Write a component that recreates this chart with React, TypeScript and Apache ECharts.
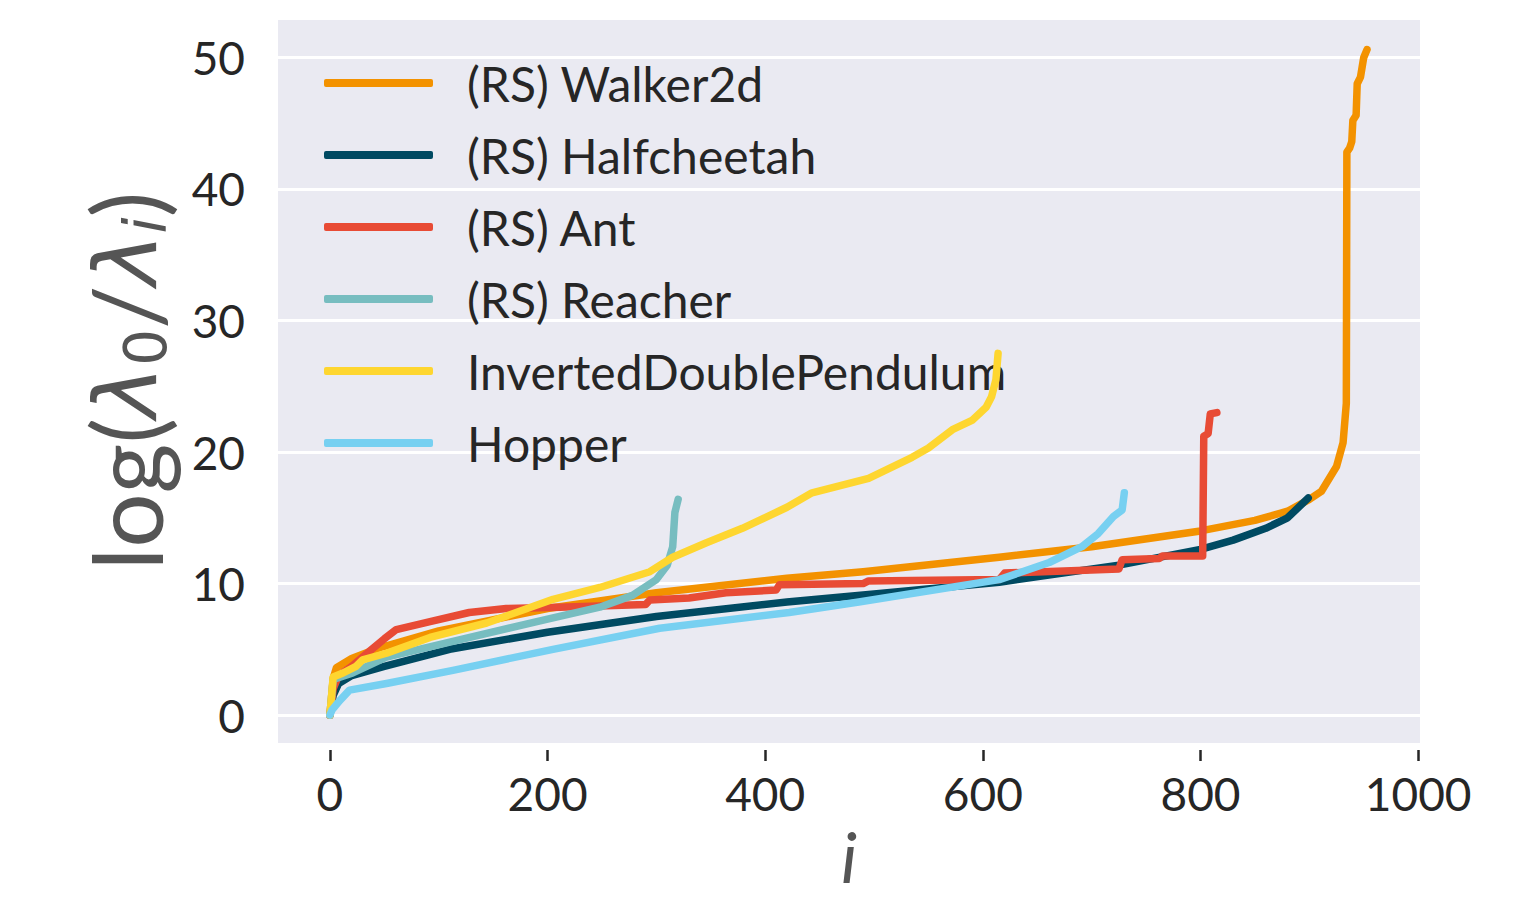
import React, { useEffect, useRef } from "react";
import * as echarts from "echarts";

const seriesNames = [
  "(RS) Walker2d",
  "(RS) Halfcheetah",
  "(RS) Ant",
  "(RS) Reacher",
  "InvertedDoublePendulum",
  "Hopper",
];
const seriesColors = ["#F39200", "#004A62", "#E84B35", "#77BDC0", "#FED630", "#77D0F1"];

const walker2d = [
  [0, 0], [3, 2.8], [6, 3.6], [20, 4.3], [45, 5.1], [100, 6.4], [200, 8.1], [300, 9.3],
  [420, 10.4], [490, 10.9], [615, 12.0], [700, 12.8], [800, 14.0], [850, 14.8], [880, 15.5],
  [900, 16.4], [911, 17.0], [925, 18.9], [931, 20.7], [934, 23.7], [934.5, 42.8], [937, 43.1],
  [939, 43.6], [940, 45.2], [943, 45.6], [944, 48.0], [947, 48.5], [950, 50.0], [953, 50.6],
];
const halfcheetah = [
  [0, 0], [3, 1.5], [8, 2.4], [20, 3.0], [50, 3.7], [110, 5.0], [200, 6.3], [300, 7.5],
  [420, 8.6], [500, 9.2], [615, 10.1], [725, 11.4], [800, 12.6], [830, 13.3], [860, 14.2],
  [880, 15.0], [899, 16.5],
];
const ant = [
  [0, 0], [3, 2.0], [8, 3.0], [20, 3.7], [37, 4.9], [50, 5.8], [61, 6.5], [92, 7.1],
  [128, 7.8], [162, 8.1], [211, 8.2], [290, 8.4], [294, 8.75], [330, 8.9], [364, 9.3],
  [410, 9.5], [413, 9.9], [490, 10.0], [495, 10.2], [615, 10.3], [620, 10.8], [725, 11.1],
  [728, 11.8], [762, 11.9], [765, 12.1], [802, 12.1], [803, 21.2], [807, 21.4], [809, 22.9],
  [815, 23.0],
];
const reacher = [
  [0, 0], [3, 2.7], [21, 3.2], [52, 4.4], [113, 5.6], [200, 7.3], [248, 8.2], [278, 9.1],
  [300, 10.3], [310, 11.4], [315, 12.8], [317, 15.4], [320, 16.4],
];
const invertedDoublePendulum = [
  [0, 0], [3, 2.9], [12, 3.2], [24, 3.7], [30, 4.2], [52, 4.7], [92, 5.9], [144, 7.0],
  [205, 8.8], [248, 9.7], [294, 10.9], [315, 12.0], [346, 13.1], [379, 14.2], [420, 15.8],
  [443, 16.9], [495, 18.0], [535, 19.6], [550, 20.3], [572, 21.7], [590, 22.4], [603, 23.4],
  [608, 24.2], [612, 25.5], [614, 27.5],
];
const hopper = [
  [0, 0], [2, 0.4], [9, 1.1], [18, 1.9], [52, 2.4], [113, 3.4], [205, 5.0], [303, 6.6],
  [422, 7.8], [486, 8.6], [615, 10.3], [661, 11.6], [691, 12.8], [706, 13.8], [720, 15.1],
  [728, 15.6], [730, 16.9],
];
const seriesData = [walker2d, halfcheetah, ant, reacher, invertedDoublePendulum, hopper];

const xTicks = [0, 200, 400, 600, 800, 1000];
const yTicks = [0, 10, 20, 30, 40, 50];

const FONT = "Lato, 'Open Sans', sans-serif";
const MATH = "'DejaVu Sans', sans-serif";

export default function App() {
  const ref = useRef<HTMLDivElement>(null);
  useEffect(() => {
    if (!ref.current) return;
    const chart = echarts.init(ref.current, undefined, { renderer: "svg" });
    chart.setOption({
      animation: false,
      backgroundColor: "#FFFFFF",
      textStyle: { fontFamily: FONT },
      grid: {
        left: 278,
        top: 18,
        width: 1142,
        height: 726,
        show: true,
        backgroundColor: "#EAEAF2",
        borderWidth: 0,
        containLabel: false,
        outerBoundsMode: "none",
      },
      legend: {
        orient: "vertical",
        left: 319,
        top: 42,
        icon: "roundRect",
        itemWidth: 109,
        itemHeight: 8,
        itemGap: 0,
        data: seriesNames,
        textStyle: {
          fontFamily: FONT,
          fontSize: 48,
          color: "#262626",
          lineHeight: 72,
          padding: [0, 0, 0, 29],
        },
      },
      xAxis: {
        type: "value",
        min: -47.7,
        max: 1001.7,
        offset: 6,
        name: "i",
        nameLocation: "middle",
        nameGap: 76,
        nameTextStyle: {
          fontFamily: FONT,
          fontStyle: "italic",
          fontSize: 70,
          lineHeight: 60,
          color: "#555555",
        },
        axisLine: { show: false, onZero: false },
        splitLine: { show: false },
        axisTick: {
          show: true,
          length: 11,
          customValues: xTicks,
          lineStyle: { color: "#262626", width: 2.5 },
        },
        axisLabel: {
          customValues: xTicks,
          margin: 20,
          fontSize: 46,
          color: "#262626",
          fontFamily: FONT,
          formatter: (v: number) => String(v),
        },
      },
      yAxis: {
        type: "value",
        min: -2.2,
        max: 53,
        name: "{a|log(}{l|λ}{s|0}{a|/}{l|λ}{si|i}{a|)}",
        nameLocation: "middle",
        nameRotate: 90,
        nameGap: 103,
        nameTextStyle: {
          rich: {
            a: { fontFamily: FONT, fontSize: 96, color: "#555555", lineHeight: 100 },
            l: {
              fontFamily: MATH,
              fontStyle: "italic",
              fontSize: 88,
              color: "#555555",
              lineHeight: 100,
            },
            s: {
              fontFamily: MATH,
              fontSize: 58,
              color: "#555555",
              lineHeight: 60,
              verticalAlign: "bottom",
            },
            si: {
              fontFamily: MATH,
              fontStyle: "italic",
              fontSize: 58,
              color: "#555555",
              lineHeight: 60,
              verticalAlign: "bottom",
            },
          },
        },
        axisLine: { show: false, onZero: false },
        axisTick: { show: false },
        splitLine: { show: true, lineStyle: { color: "#FFFFFF", width: 3 } },
        axisLabel: {
          customValues: yTicks,
          margin: 33,
          fontSize: 46,
          color: "#262626",
          fontFamily: FONT,
        },
      },
      series: seriesNames.map((name, k) => ({
        name,
        type: "line",
        data: seriesData[k],
        showSymbol: false,
        symbol: "none",
        color: seriesColors[k],
        lineStyle: { width: 7.5, color: seriesColors[k], cap: "round", join: "round" },
        z: 2 + k,
      })),
    });
    return () => chart.dispose();
  }, []);
  return (
    <div
      ref={ref}
      style={{ position: "fixed", left: 0, top: 0, width: 1527, height: 899 }}
    />
  );
}
